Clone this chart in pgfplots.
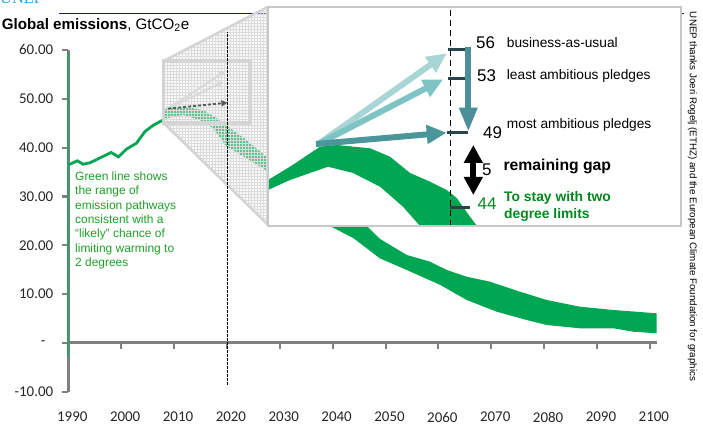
\documentclass[border=0pt]{standalone}
\usepackage{fontspec}
\setmainfont{Liberation Sans}
\newfontfamily\calibri{Carlito}
\newfontfamily\serifunep{Liberation Serif}
\usepackage{pgfplots}
\pgfplotsset{compat=1.18}
\usetikzlibrary{arrows.meta,patterns}
\definecolor{bandgreen}{RGB}{0,166,81}
\definecolor{yaxisgreen}{RGB}{46,160,100}
\definecolor{textgreen}{RGB}{30,160,40}
\definecolor{darkgreen}{RGB}{0,135,30}
\definecolor{tealA}{RGB}{168,214,214}
\definecolor{tealB}{RGB}{126,196,196}
\definecolor{tealC}{RGB}{74,150,154}
\definecolor{tealV}{RGB}{74,143,153}
\definecolor{tickdark}{RGB}{40,70,72}
\definecolor{axisgray}{RGB}{128,128,128}
\definecolor{framegray}{RGB}{200,200,200}
\definecolor{maggray}{RGB}{212,212,212}
\definecolor{navy}{RGB}{25,25,100}
\definecolor{unep}{RGB}{41,171,226}
\begin{document}
\begin{tikzpicture}[x=1bp,y=1bp]
\draw[navy, line width=1.3bp] (59,422.7) -- (684,422.7);
\node[anchor=base west, inner sep=0, text=unep, font=\serifunep\fontsize{16.5}{16.5}\selectfont] at (0,432) {UNEP};
\node[anchor=base west, inner sep=0, font=\fontsize{15.2}{16}\selectfont] at (1.7,406.7) {\textbf{Global emissions}, GtCO\textsubscript{2}e};

\begin{axis}[at={(68.3bp,44.3bp)}, anchor=south west, scale only axis,
  width=588.4bp, height=341.7bp, xmin=1990, xmax=2101.3, ymin=-10, ymax=60,
  clip=false, axis line style={draw=none}, major tick style={draw=none},
  xtick={1990,2000,2010,2020,2030,2040,2050,2060,2070,2080,2090,2100},
  xticklabels={1990,2000,2010,2020,2030,2040,2050,2060,2070,2080,2090,2100},
  ytick={-10,0,10,20,30,40,50,60},
  yticklabels={-10.00,{-\hspace*{7.7bp}},10.00,20.00,30.00,40.00,50.00,60.00},
  ticklabel style={font=\calibri\fontsize{15}{15}\selectfont, text=black!85},
  xticklabel style={yshift=-17bp, xshift=4bp},
  yticklabel style={xshift=-11.6bp}]
% axis lines
\draw[axisgray, line width=3bp] (axis cs:1990,-10) -- (axis cs:1990,60);
\draw[axisgray, line width=3bp] (axis cs:1990,0) -- (axis cs:2101.3,0);
\pgfplotsinvokeforeach{-10,0,10,20,30,40,50,60}{
  \draw[axisgray, line width=2.2bp] (axis cs:1990,#1) -- ([xshift=-6bp]axis cs:1990,#1);
}
\pgfplotsinvokeforeach{2000,2010,2020,2030,2040,2050,2060,2070,2080,2090,2100}{
  \draw[axisgray, line width=2bp] (axis cs:#1,0) -- ([yshift=-6bp]axis cs:#1,0);
}
% 2-degree pathway band
\addplot[fill=bandgreen, draw=none] coordinates {
 (2007.9,47.3) (2008.6,48.06) (2011.75,48.39) (2015.5,47.71) (2018.1,46.01)
 (2020.6,43.97) (2023.7,41.57) (2027.8,37.82) (2032,34.5) (2036,31)
 (2040,27.8) (2044,25.3) (2046.44,23.95) (2048.96,21.3) (2054.01,18.01)
 (2058.42,16.64) (2061.57,14.94) (2065.35,13.56) (2069.76,12.54) (2075.43,10.49)
 (2080.48,8.79) (2086.74,7.42) (2093.08,6.74) (2101.29,6.06)
 (2101.29,1.97) (2096.87,2.29) (2093.08,2.99) (2086.74,2.99) (2080.48,3.66)
 (2076.70,4.69) (2071.03,6.39) (2065.35,8.79) (2060.38,11.86) (2054.01,14.94)
 (2048.96,17.3) (2044,21.4) (2039.5,23.95) (2035,28.5) (2031,32.3)
 (2027.8,35.07) (2023.7,37.82) (2019.96,40.2) (2017.4,43.97) (2014.9,45.66)
 (2011.75,46.69) (2008.6,46.01) (2007.9,45.9)} -- cycle;
% historical emissions
\addplot[bandgreen, line width=2.8bp] coordinates {
 (1990,36.45) (1990.3,36.6) (1991.7,37.3) (1992.8,36.6) (1994.1,36.9)
 (1996.0,37.9) (1998.1,39.0) (1999.5,38.1) (2001.0,39.7) (2002.9,40.9)
 (2004.5,43.3) (2006.1,44.6) (2008.0,45.7)};
% magnifier
\addplot[fill=gray!12, fill opacity=0.4, draw=none] coordinates {
 (2007.97,57.72) (2027.9,68.88) (2027.9,24.15) (2007.97,45.08)} -- cycle;
\addplot[pattern=grid, pattern color=gray!28, draw=none] coordinates {
 (2007.97,57.72) (2027.9,68.88) (2027.9,24.15) (2007.97,45.08)} -- cycle;
\addplot[maggray, line width=2.5bp] coordinates {(2007.97,57.72) (2027.83,68.88)};
\addplot[maggray, line width=2.5bp] coordinates {(2007.97,45.08) (2027.83,24.15)};
\addplot[maggray, line width=3.5bp] coordinates {
 (2007.97,45.08) (2007.97,57.72) (2024.37,57.72) (2024.37,45.08)} -- cycle;
\addplot[gray!30, line width=2bp, -{Triangle[length=6bp,width=6bp]}] coordinates {(2008.9,48.0) (2019.6,55.6)};
\addplot[gray!30, line width=2bp, -{Triangle[length=6bp,width=6bp]}] coordinates {(2008.9,48.0) (2019.3,53.5)};
\addplot[black!65, line width=1.8bp, densely dashed, -{Triangle[length=6bp,width=6bp]}] coordinates {(2008.9,48.0) (2020.1,49.2)};
% 2020 marker
\addplot[black, line width=0.8bp, dash pattern=on 2.5bp off 1.5bp] coordinates {(2020,-8.6) (2020,63.7)};
% green axis overlay
\addplot[yaxisgreen, line width=2bp] coordinates {(1990,-2.8) (1990,59.6)};
\end{axis}

\node[anchor=north west, inner sep=0, align=left, text=textgreen, font=\fontsize{12}{14.4}\selectfont] at (75,264.5)
 {Green line shows\\the range of\\emission pathways\\consistent with a\\``likely'' chance of\\limiting warming to\\2 degrees};

\begin{axis}[at={(268bp,210bp)}, anchor=south west, scale only axis,
  width=413bp, height=219.3bp, xmin=0, xmax=413, ymin=0, ymax=219.3,
  ticks=none, axis on top, axis background/.style={fill=white},
  axis line style={draw=framegray, line width=2bp}]
\addplot[fill=bandgreen, draw=none] coordinates {
 (0,46) (22,59.3) (52,79.3) (68.7,81) (102,77.7) (122,69.3) (142,53)
 (162,44.3) (178.7,36) (188.7,28) (202,9.3) (209,0) (217,-10)
 (162,-12) (152,0) (135,19.3) (112,39.3) (85,53) (60,59.3) (22,46) (0,36)} -- cycle;
\addplot[black, line width=1.5bp, dash pattern=on 6bp off 4bp] coordinates {(182.7,0) (182.7,219.3)};
\addplot[tealA, line width=6bp, -{Triangle[length=20bp,width=18bp]}] coordinates {(50.3,82) (178.7,172.7)};
\addplot[tealB, line width=6bp, -{Triangle[length=20bp,width=18bp]}] coordinates {(50.3,82) (175.3,146.7)};
\addplot[tealC, line width=6bp, -{Triangle[length=20bp,width=18bp]}] coordinates {(48,82) (178.7,93.3)};
\addplot[tickdark, line width=3bp] coordinates {(180.3,176) (197,176)};
\addplot[tickdark, line width=3bp] coordinates {(180.3,147.7) (197,147.7)};
\addplot[tickdark, line width=3bp] coordinates {(178.7,93.3) (200.3,93.3)};
\addplot[tickdark, line width=3bp] coordinates {(182,18.7) (202,18.7)};
\addplot[tealV, line width=6bp, -{Triangle[length=24bp,width=17bp]}] coordinates {(200.3,179.3) (200.3,94.3)};
\addplot[black, line width=6bp, {Triangle[length=18bp,width=18bp]}-{Triangle[length=18bp,width=18bp]}] coordinates {(205.3,81) (205.3,31)};
\node[font=\fontsize{17}{17}\selectfont] at (axis cs:217.5,183.3) {56};
\node[anchor=west, inner sep=0, font=\fontsize{13.8}{14}\selectfont] at (axis cs:238.7,183.7) {business-as-usual};
\node[font=\fontsize{17}{17}\selectfont] at (axis cs:218.5,150) {53};
\node[anchor=west, inner sep=0, font=\fontsize{13.8}{14}\selectfont] at (axis cs:238.7,150) {least ambitious pledges};
\node[font=\fontsize{17}{17}\selectfont] at (axis cs:224.5,93.3) {49};
\node[anchor=west, inner sep=0, font=\fontsize{13.8}{14}\selectfont] at (axis cs:238.7,101) {most ambitious pledges};
\node[font=\fontsize{17}{17}\selectfont] at (axis cs:218.7,56.7) {5};
\node[anchor=west, inner sep=0, font=\bfseries\fontsize{15.8}{16}\selectfont] at (axis cs:235.3,59.3) {remaining gap};
\node[text=darkgreen, font=\fontsize{17}{17}\selectfont] at (axis cs:219,22) {44};
\node[anchor=west, inner sep=0, align=left, text=darkgreen, font=\bfseries\fontsize{13.9}{16.7}\selectfont] at (axis cs:236,19.3) {To stay with two\\degree limits};
\end{axis}

\node[rotate=-90, inner sep=0, font=\fontsize{9.8}{10}\selectfont] at (692.5,239.5)
 {UNEP thanks Joeri Rogelj (ETHZ) and the European Climate Foundation for graphics};

\pgfresetboundingbox
\path[use as bounding box] (0,0) rectangle (703,436);
\end{tikzpicture}
\end{document}
